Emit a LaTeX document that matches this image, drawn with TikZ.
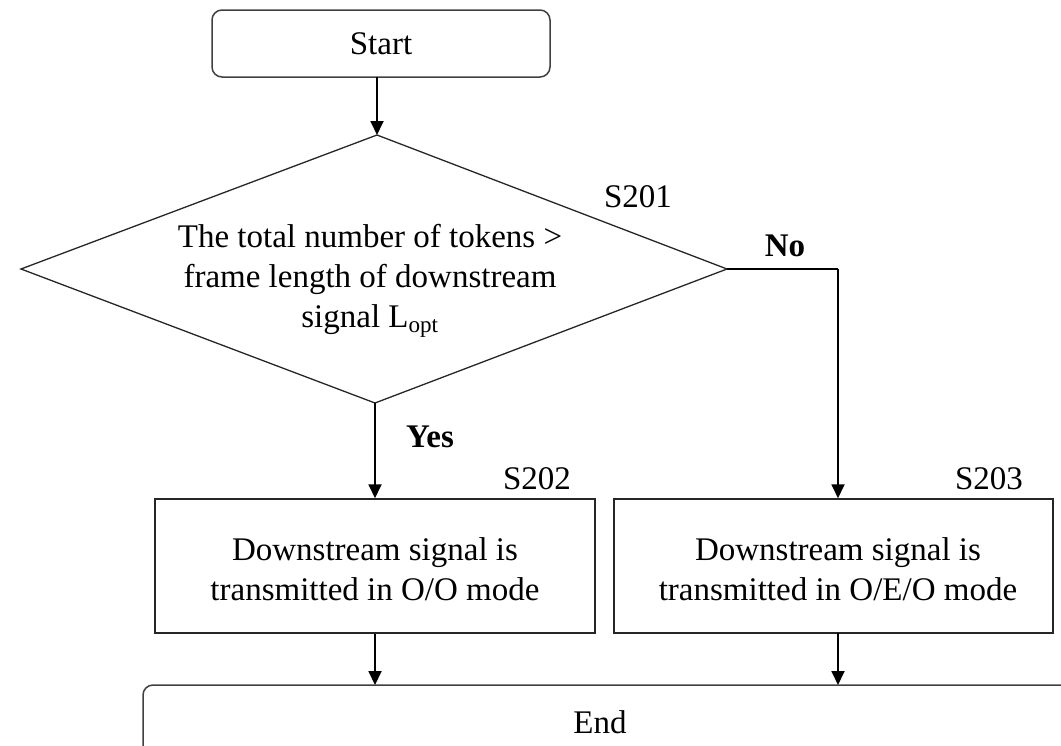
\documentclass[tikz,border=0pt]{standalone}
\usepackage{fontspec}
\setmainfont{Liberation Serif}
\usetikzlibrary{arrows.meta}
\begin{document}
\begin{tikzpicture}[x=1pt,y=-1pt,
  txt/.style={font=\fontsize{33}{40}\selectfont, inner sep=0pt, align=center},
  lbl/.style={font=\fontsize{33}{40}\selectfont, inner sep=0pt},
  term/.style={draw=black!75, line width=1.5pt, rounded corners=10pt},
  stepbox/.style={draw=black!85, line width=1.5pt},
  conn/.style={line width=1.8pt, -{Triangle[length=14pt,width=13pt]}},
  plain/.style={line width=1.8pt}]
\useasboundingbox (0,0) rectangle (1061,745);
% Start
\draw[term] (212,10) rectangle (550,77);
\node[txt] (start) at (381,43.5) {Start};
\coordinate (startS) at (377,77);
% Decision
\coordinate (dtop) at (377,135);
\coordinate (dleft) at (21,269);
\coordinate (dright) at (727,269);
\coordinate (dbot) at (375,403);
\draw[stepbox, line width=1.3pt] (dtop) -- (dright) -- (dbot) -- (dleft) -- cycle;
\node[txt] (dtext) at (370,281) {The total number of tokens >\\frame length of downstream\\signal L\textsubscript{opt}};
\node[lbl] (s201) at (638,197) {S201};
\node[lbl, font=\fontsize{33}{40}\selectfont\bfseries] (no) at (785,246) {No};
\node[lbl, font=\fontsize{33}{40}\selectfont\bfseries] (yes) at (430,437) {Yes};
% Steps
\node[stepbox, minimum width=440pt, minimum height=134pt, inner sep=0pt] (b1) at (375,566) {};
\node[txt] (b1t) at (375,569) {Downstream signal is\\transmitted in O/O mode};
\node[stepbox, minimum width=439pt, minimum height=134pt, inner sep=0pt] (b2) at (833.5,566) {};
\node[txt] (b2t) at (838,569) {Downstream signal is\\transmitted in O/E/O mode};
\node[lbl] (s202) at (537,479) {S202};
\node[lbl] (s203) at (989,479) {S203};
% End
\draw[term] (143,685) rectangle (1080,770);
\node[txt] (endt) at (600,722) {End};
\coordinate (endN) at (600,685);
% connectors
\draw[conn] (startS) -- (dtop);
\draw[conn] (dbot) -- (dbot |- b1.north);
\coordinate (nc) at (838,269);
\draw[plain] (dright) -- (nc);
\draw[conn] (nc) -- (nc |- b2.north);
\draw[conn] (b1.south) -- (b1.south |- endN);
\coordinate (b2s) at (838,633);
\draw[conn] (b2s) -- (b2s |- endN);
\end{tikzpicture}
\end{document}
